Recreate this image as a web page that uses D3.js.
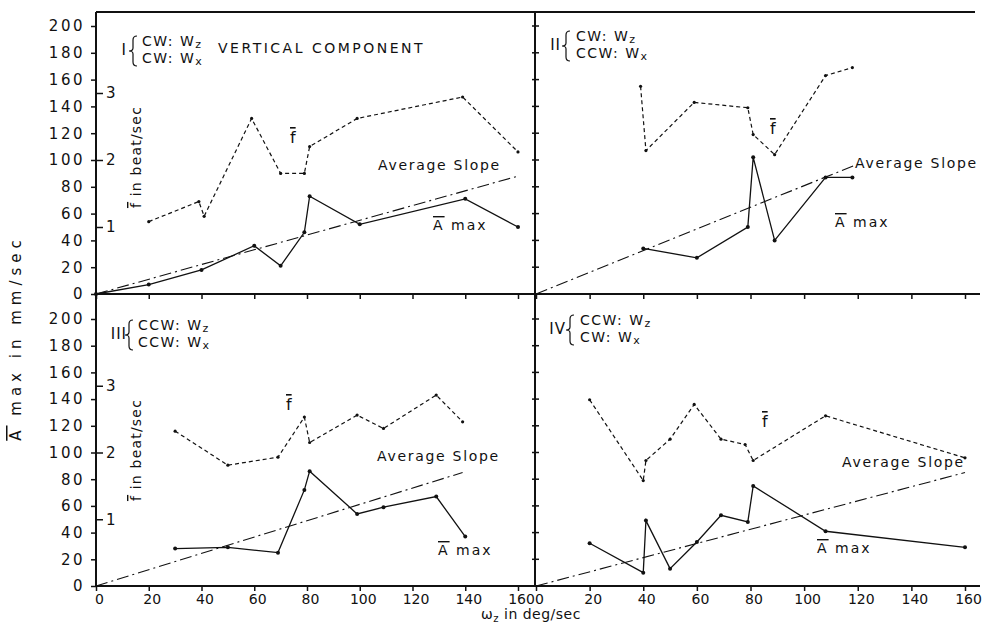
<!DOCTYPE html>
<html lang="en">
<head>
<meta charset="UTF-8">
<title>Amplitude and beat frequency vs angular velocity</title>
<script src="https://d3js.org/d3.v7.min.js"></script>
<style>
  body {margin: 0; background: #fff;}
  svg text {font-family: "DejaVu Sans", sans-serif; fill: #111;}
  .frame {stroke: #111; stroke-width: 2px;}
  .axis path {display: none;}
  .axis line {stroke: #111; stroke-width: 1.5px;}
  .amp {fill: none; stroke: #111; stroke-width: 1.3px;}
  .freq {fill: none; stroke: #111; stroke-width: 1.2px; stroke-dasharray: 4 3;}
  .slope {fill: none; stroke: #111; stroke-width: 1.1px; stroke-dasharray: 12 4 2 4;}
  .brace {fill: none; stroke: #111; stroke-width: 1.2px;}
  .bar {text-decoration: overline;}
</style>
</head>
<body>
<script>
const width = 984, height = 629;

// tick values
const xTicks = [0, 20, 40, 60, 80, 100, 120, 140, 160];
const yTicks = [0, 20, 40, 60, 80, 100, 120, 140, 160, 180, 200];
const fTicks = [1, 2, 3];

// [omega_z deg/sec, A max mm/sec]
const ampI   = [[0,0],[20,7],[40,18],[60,36],[70,21],[79,46],[81,73],[100,52],[140,71],[160,50]];
const ampII  = [[40,34],[60,27],[79,50],[81,102],[89,40],[108,87],[118,87]];
const ampIII = [[30,28],[50,29],[69,25],[79,72],[81,86],[99,54],[109,59],[129,67],[140,37]];
const ampIV  = [[20,32],[40,10],[41,49],[50,13],[60,33],[69,53],[79,48],[81,75],[108,41],[160,29]];

// [omega_z deg/sec, f beat/sec]
const freqI   = [[20,1.08],[39,1.38],[41,1.16],[59,2.62],[70,1.8],[79,1.8],[81,2.2],[99,2.62],[139,2.94],[160,2.12]];
const freqII  = [[39,3.1],[41,2.14],[59,2.86],[79,2.78],[81,2.38],[89,2.08],[108,3.26],[118,3.38]];
const freqIII = [[30,2.32],[50,1.81],[69,1.93],[79,2.53],[81,2.15],[99,2.56],[109,2.36],[129,2.86],[139,2.46]];
const freqIV  = [[20,2.79],[40,1.58],[41,1.88],[50,2.2],[59,2.72],[69,2.2],[78,2.12],[81,1.88],[108,2.55],[160,1.92]];

// average slope lines
const slopeI   = [[0,0],[160,88]];
const slopeII  = [[0,0],[120,97]];
const slopeIII = [[0,0],[139,85]];
const slopeIV  = [[0,0],[160,85]];

const panels = [
  {num: "I",   a: "CW",  b: "CW",  amp: ampI,   freq: freqI,   slope: slopeI,
   x: [96, 518], y: [294, 26], left: true, bottom: false,
   lab: {nx: 127, bx: 132, tx: 142, y: 46}, avg: [378, 170], fbar: [290, 143], abar: [433, 230]},
  {num: "II",  a: "CW",  b: "CCW", amp: ampII,  freq: freqII,  slope: slopeII,
   x: [536, 965], y: [294, 26], left: false, bottom: false,
   lab: {nx: 561, bx: 565, tx: 576, y: 41}, avg: [855, 168], fbar: [770, 134], abar: [835, 227]},
  {num: "III", a: "CCW", b: "CCW", amp: ampIII, freq: freqIII, slope: slopeIII,
   x: [96, 518], y: [586, 319], left: true, bottom: true,
   lab: {nx: 127, bx: 128, tx: 138, y: 330}, avg: [377, 461], fbar: [286, 410], abar: [438, 555]},
  {num: "IV",  a: "CCW", b: "CW",  amp: ampIV,  freq: freqIV,  slope: slopeIV,
   x: [536, 965], y: [586, 319], left: false, bottom: true,
   lab: {nx: 566, bx: 569, tx: 580, y: 325}, avg: [842, 467], fbar: [762, 427], abar: [817, 553]}
];

const svg = d3.select("body").append("svg")
  .attr("width", width).attr("height", height);

// frame
const frame = [
  [96, 12, 975, 12], [96, 294, 980, 294], [96, 586, 980, 586],
  [96, 12, 96, 587], [535, 12, 535, 587]
];
svg.append("g").selectAll("line").data(frame).join("line")
  .attr("class", "frame")
  .attr("x1", d => d[0]).attr("y1", d => d[1])
  .attr("x2", d => d[2]).attr("y2", d => d[3]);

function brace(x0, top, bot) {
  const mid = (top + bot) / 2;
  return `M${x0 + 5},${top} Q${x0 + 1},${top} ${x0 + 1},${top + 4} L${x0 + 1},${mid - 3}` +
         ` Q${x0 + 1},${mid} ${x0 - 3},${mid} Q${x0 + 1},${mid} ${x0 + 1},${mid + 3}` +
         ` L${x0 + 1},${bot - 4} Q${x0 + 1},${bot} ${x0 + 5},${bot}`;
}

panels.forEach(p => {
  const x = d3.scaleLinear().domain([0, 160]).range(p.x);
  const y = d3.scaleLinear().domain([0, 200]).range(p.y);
  const f = d3.scaleLinear().domain([0, 4]).range(p.y);
  const g = svg.append("g");

  // x axis ticks
  const xa = g.append("g").attr("class", "axis")
    .attr("transform", "translate(0," + p.y[0] + ")")
    .call(d3.axisBottom(x).tickValues(xTicks).tickSize(5).tickPadding(3)
      .tickFormat(p.bottom ? d3.format("d") : ""));
  xa.selectAll("text").attr("font-size", 14).attr("dx", 3);

  // y axis ticks
  if (p.left) {
    const ya = g.append("g").attr("class", "axis")
      .attr("transform", "translate(" + p.x[0] + ",0)")
      .call(d3.axisLeft(y).tickValues(yTicks).tickSize(5).tickPadding(6));
    ya.selectAll("text").attr("font-size", 15).attr("letter-spacing", 2.5);

    // beat frequency ticks inside the axis
    const fa = g.append("g").attr("class", "axis")
      .attr("transform", "translate(" + p.x[0] + ",0)")
      .call(d3.axisRight(f).tickValues(fTicks).tickSize(7).tickPadding(3).tickFormat(d3.format("d")));
    fa.selectAll("text").attr("font-size", 15);

    const ft = g.append("text")
      .attr("transform", "translate(141," + (p.y[1] + 131) + ") rotate(-90)")
      .attr("text-anchor", "middle").attr("font-size", 14).attr("letter-spacing", 1.2);
    ft.append("tspan").attr("class", "bar").text("f");
    ft.append("tspan").text(" in beat/sec");
  } else {
    g.append("g").selectAll("line").data(yTicks.slice(1)).join("line")
      .attr("x1", p.x[0] - 4).attr("x2", p.x[0] + 3)
      .attr("y1", d => y(d)).attr("y2", d => y(d))
      .attr("stroke", "#111").attr("stroke-width", 1.5);
  }

  // series
  const line = d3.line().x(d => x(d[0]));
  g.append("path").attr("class", "slope")
    .attr("d", line.y(d => y(d[1]))(p.slope));
  g.append("path").attr("class", "freq")
    .attr("d", line.y(d => f(d[1]))(p.freq));
  g.append("path").attr("class", "amp")
    .attr("d", line.y(d => y(d[1]))(p.amp));

  g.append("g").selectAll("circle").data(p.amp).join("circle")
    .attr("cx", d => x(d[0])).attr("cy", d => y(d[1])).attr("r", 2).attr("fill", "#111");
  g.append("g").selectAll("circle").data(p.freq).join("circle")
    .attr("cx", d => x(d[0])).attr("cy", d => f(d[1])).attr("r", 1.6).attr("fill", "#111");

  // panel labels
  g.append("text").attr("x", p.lab.nx).attr("y", p.lab.y + 9)
    .attr("text-anchor", "end").attr("font-size", 15).attr("letter-spacing", 1).text(p.num);
  g.append("path").attr("class", "brace")
    .attr("d", brace(p.lab.bx, p.lab.y - 10, p.lab.y + 20));
  [[p.a, "z", 0], [p.b, "x", 17]].forEach(([rot, sub, dy]) => {
    const t = g.append("text").attr("x", p.lab.tx).attr("y", p.lab.y + dy)
      .attr("font-size", 14).attr("letter-spacing", 1.5);
    t.append("tspan").text(rot + ": W");
    t.append("tspan").attr("font-size", 11).attr("dy", 2).text(sub);
  });

  g.append("text").attr("x", p.avg[0]).attr("y", p.avg[1])
    .attr("font-size", 14).attr("letter-spacing", 1.7).text("Average Slope");
  g.append("text").attr("x", p.fbar[0]).attr("y", p.fbar[1])
    .attr("font-size", 16).append("tspan").attr("class", "bar").text("f");
  const at = g.append("text").attr("x", p.abar[0]).attr("y", p.abar[1])
    .attr("font-size", 14).attr("letter-spacing", 2);
  at.append("tspan").attr("class", "bar").text("A");
  at.append("tspan").text(" max");
});

svg.append("text").attr("x", 218).attr("y", 53)
  .attr("font-size", 14).attr("letter-spacing", 2.5).text("VERTICAL COMPONENT");

const yl = svg.append("text")
  .attr("transform", "translate(21,338) rotate(-90)")
  .attr("text-anchor", "middle").attr("font-size", 15).attr("letter-spacing", 5);
yl.append("tspan").attr("class", "bar").text("A");
yl.append("tspan").text(" max in mm/sec");

const xl = svg.append("text").attr("x", 531).attr("y", 619)
  .attr("text-anchor", "middle").attr("font-size", 14).attr("letter-spacing", 0.5);
xl.append("tspan").text("\u03c9");
xl.append("tspan").attr("font-size", 10).attr("dy", 3).text("z");
xl.append("tspan").attr("dy", -3).text(" in deg/sec");
</script>
</body>
</html>
